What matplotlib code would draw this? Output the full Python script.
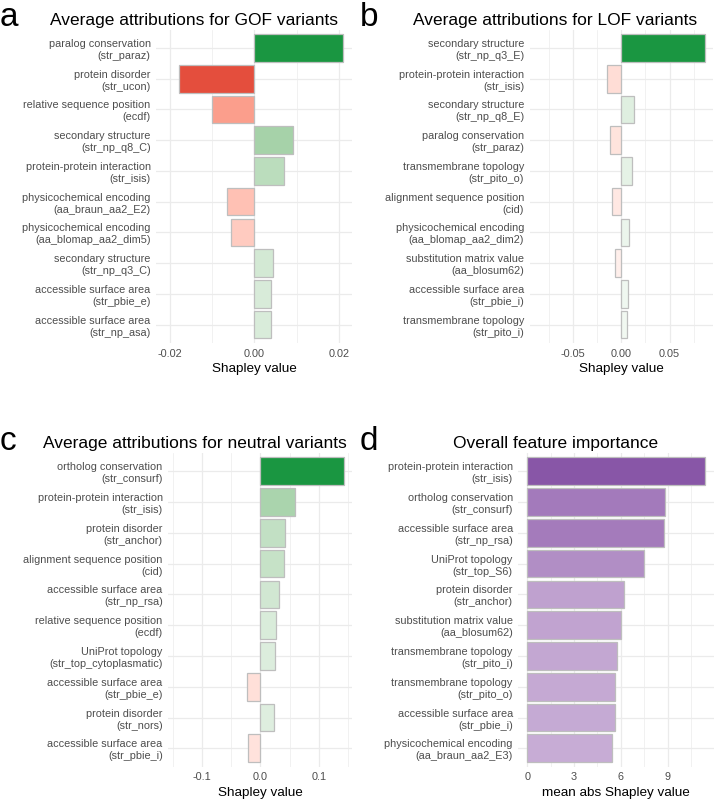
import numpy as np
import matplotlib
matplotlib.use("Agg")
import matplotlib.pyplot as plt
from matplotlib.ticker import FixedLocator, AutoMinorLocator, FixedFormatter

plt.rcParams['font.family'] = ['Liberation Sans', 'DejaVu Sans']

# ---------------- data ----------------
gof_labels = ["paralog conservation\n(str_paraz)", "protein disorder\n(str_ucon)",
              "relative sequence position\n(ecdf)", "secondary structure\n(str_np_q8_C)",
              "protein-protein interaction\n(str_isis)", "physicochemical encoding\n(aa_braun_aa2_E2)",
              "physicochemical encoding\n(aa_blomap_aa2_dim5)", "secondary structure\n(str_np_q3_C)",
              "accessible surface area\n(str_pbie_e)", "accessible surface area\n(str_np_asa)"]
gof_values = [0.0211, -0.0178, -0.0101, 0.0092, 0.0070, -0.0065, -0.0054, 0.0045, 0.0040, 0.0039]
gof_ticks = [-0.02, 0.00, 0.02]
gof_ticklabels = ["-0.02", "0.00", "0.02"]

lof_labels = ["secondary structure\n(str_np_q3_E)", "protein-protein interaction\n(str_isis)",
              "secondary structure\n(str_np_q8_E)", "paralog conservation\n(str_paraz)",
              "transmembrane topology\n(str_pito_o)", "alignment sequence position\n(cid)",
              "physicochemical encoding\n(aa_blomap_aa2_dim2)", "substitution matrix value\n(aa_blosum62)",
              "accessible surface area\n(str_pbie_i)", "transmembrane topology\n(str_pito_i)"]
lof_values = [0.0863, -0.0145, 0.0135, -0.0117, 0.0108, -0.0097, 0.0083, -0.0069, 0.0066, 0.0059]
lof_ticks = [-0.05, 0.00, 0.05]
lof_ticklabels = ["-0.05", "0.00", "0.05"]

neu_labels = ["ortholog conservation\n(str_consurf)", "protein-protein interaction\n(str_isis)",
              "protein disorder\n(str_anchor)", "alignment sequence position\n(cid)",
              "accessible surface area\n(str_np_rsa)", "relative sequence position\n(ecdf)",
              "UniProt topology\n(str_top_cytoplasmatic)", "accessible surface area\n(str_pbie_e)",
              "protein disorder\n(str_nors)", "accessible surface area\n(str_pbie_i)"]
neu_values = [0.143, 0.0598, 0.0427, 0.0400, 0.0325, 0.0268, 0.0246, -0.0222, 0.0229, -0.0205]
neu_ticks = [-0.1, 0.0, 0.1]
neu_ticklabels = ["-0.1", "0.0", "0.1"]

all_labels = ["protein-protein interaction\n(str_isis)", "ortholog conservation\n(str_consurf)",
              "accessible surface area\n(str_np_rsa)", "UniProt topology\n(str_top_S6)",
              "protein disorder\n(str_anchor)", "substitution matrix value\n(aa_blosum62)",
              "transmembrane topology\n(str_pito_i)", "transmembrane topology\n(str_pito_o)",
              "accessible surface area\n(str_pbie_i)", "physicochemical encoding\n(aa_braun_aa2_E3)"]
all_values = [11.37, 8.83, 8.78, 7.50, 6.20, 6.03, 5.77, 5.64, 5.60, 5.45]
all_ticks = [0, 3, 6, 9]
all_ticklabels = ["0", "3", "6", "9"]

# ---------------- colour helpers (Lab interpolation like ggplot) ----------------
def hex2rgb(h):
    h = h.lstrip('#')
    return np.array([int(h[i:i + 2], 16) / 255 for i in (0, 2, 4)])

def rgb2lab(c):
    c = np.where(c <= 0.04045, c / 12.92, ((c + 0.055) / 1.055) ** 2.4)
    M = np.array([[0.4124, 0.3576, 0.1805], [0.2126, 0.7152, 0.0722], [0.0193, 0.1192, 0.9505]])
    xyz = M @ c / np.array([0.95047, 1.0, 1.08883])
    f = np.where(xyz > 0.008856, np.cbrt(xyz), 7.787 * xyz + 16 / 116)
    return np.array([116 * f[1] - 16, 500 * (f[0] - f[1]), 200 * (f[1] - f[2])])

def lab2rgb(lab):
    L, a, b = lab
    fy = (L + 16) / 116
    fx = fy + a / 500
    fz = fy - b / 200
    f = np.array([fx, fy, fz])
    xyz = np.where(f ** 3 > 0.008856, f ** 3, (f - 16 / 116) / 7.787) * np.array([0.95047, 1.0, 1.08883])
    Mi = np.array([[3.2406, -1.5372, -0.4986], [-0.9689, 1.8758, 0.0415], [0.0557, -0.2040, 1.0570]])
    rgb = Mi @ xyz
    rgb = np.where(rgb <= 0.0031308, 12.92 * rgb, 1.055 * np.clip(rgb, 0, None) ** (1 / 2.4) - 0.055)
    return np.clip(rgb, 0, 1)

def lab_mix(c0, c1, t):
    l0, l1 = rgb2lab(hex2rgb(c0)), rgb2lab(hex2rgb(c1))
    return lab2rgb(l0 + (l1 - l0) * t)

LOW, MID, HIGH = "#D7191C", "#FFFFFF", "#1A9641"
PURPLE = "#8856A7"

def div_colors(vals):
    m = max(abs(v) for v in vals)
    return [lab_mix(MID, HIGH, v / m) if v >= 0 else lab_mix(MID, LOW, -v / m) for v in vals]

def seq_colors(vals):
    m = max(vals)
    return [lab_mix(MID, PURPLE, v / m) for v in vals]

# ---------------- figure ----------------
W, H = 714, 799
fig = plt.figure(figsize=(W / 100, H / 100), dpi=100)

def add_axes(x0, x1, ytop, ybot):
    return fig.add_axes([x0 / W, 1 - ybot / H, (x1 - x0) / W, (ybot - ytop) / H])

TXT = "#4D4D4D"
GRID = "#EBEBEB"

def draw_panel(ax, labels, values, colors, ticks, ticklabels, xlabel, diverging=True):
    n = len(values)
    y = np.arange(n)
    ax.barh(y, values, height=0.9, color=colors, edgecolor="#BEBEBE", linewidth=0.9, zorder=3)
    if diverging:
        m = max(abs(v) for v in values)
        ax.set_xlim(-m * 1.1, m * 1.1)
    else:
        m = max(values)
        ax.set_xlim(-0.05 * m, 1.05 * m)
    ax.set_ylim(n - 0.4, -0.6)
    ax.set_yticks(y)
    ax.set_yticklabels(labels, fontsize=7.8, color=TXT, linespacing=1.25)
    for t in ax.get_yticklabels():
        t.set_multialignment('right')
    ax.xaxis.set_major_locator(FixedLocator(ticks))
    ax.xaxis.set_major_formatter(FixedFormatter(ticklabels))
    ax.xaxis.set_minor_locator(AutoMinorLocator(2))
    ax.tick_params(axis='both', which='both', length=0)
    ax.tick_params(axis='x', labelsize=7.8, labelcolor=TXT, pad=4)
    ax.tick_params(axis='y', pad=4)
    ax.grid(which='major', color=GRID, linewidth=0.9, zorder=0)
    ax.grid(which='minor', axis='x', color=GRID, linewidth=0.5, zorder=0)
    ax.set_axisbelow(True)
    for s in ax.spines.values():
        s.set_visible(False)
    ax.set_xlabel(xlabel, fontsize=9.7, color='black', labelpad=3)

ax_a = add_axes(156.2, 352.4, 29.6, 343)
draw_panel(ax_a, gof_labels, gof_values, div_colors(gof_values), gof_ticks, gof_ticklabels, "Shapley value")
ax_b = add_axes(529.6, 713.0, 29.6, 343)
draw_panel(ax_b, lof_labels, lof_values, div_colors(lof_values), lof_ticks, lof_ticklabels, "Shapley value")
ax_c = add_axes(168.3, 352.3, 452.8, 766.8)
draw_panel(ax_c, neu_labels, neu_values, div_colors(neu_values), neu_ticks, neu_ticklabels, "Shapley value")
ax_d = add_axes(518.4, 713.5, 452.8, 766.8)
draw_panel(ax_d, all_labels, all_values, seq_colors(all_values), all_ticks, all_ticklabels,
           "mean abs Shapley value", diverging=False)

# titles
def ftext(x, y, s, **kw):
    fig.text(x / W, 1 - y / H, s, **kw)

ftext(194, 25, "Average attributions for GOF variants", fontsize=12.5, ha='center', va='baseline')
ftext(555, 25, "Average attributions for LOF variants", fontsize=12.5, ha='center', va='baseline')
ftext(194.7, 448.3, "Average attributions for neutral variants", fontsize=12.5, ha='center', va='baseline')
ftext(556, 448.3, "Overall feature importance", fontsize=12.5, ha='center', va='baseline')

# panel letters
ftext(0, 26, "a", fontsize=24, ha='left', va='baseline')
ftext(360, 26, "b", fontsize=24, ha='left', va='baseline')
ftext(0, 450, "c", fontsize=24, ha='left', va='baseline')
ftext(360, 450, "d", fontsize=24, ha='left', va='baseline')

fig.savefig("out.png", dpi=100, facecolor='white')
